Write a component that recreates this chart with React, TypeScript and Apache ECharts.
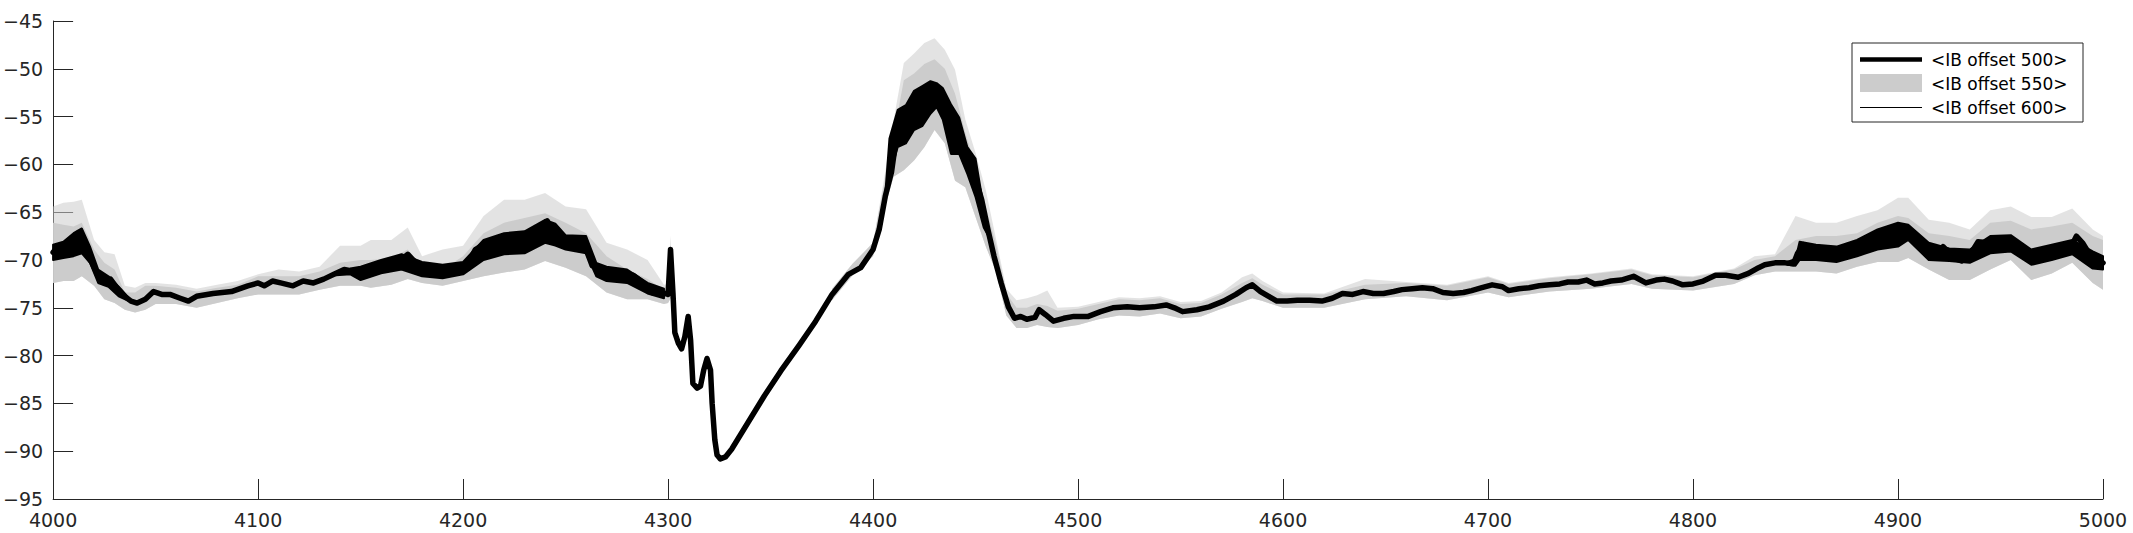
import React, { useEffect, useRef } from 'react';
import * as echarts from 'echarts';

// IB offset 500: centre of the thick black trace
const lineX = [
  4000, 4002, 4005, 4007, 4010, 4012, 4014, 4016, 4019, 4022, 4025, 4028, 4031, 4035, 4038, 4041, 4045, 4049, 4053, 4057,
  4062, 4066, 4070, 4078, 4087, 4095, 4100, 4103, 4107, 4111, 4117, 4122, 4127, 4132, 4137, 4142, 4147, 4153, 4158, 4163,
  4168, 4173, 4177, 4182, 4187, 4192, 4197, 4202, 4206, 4213, 4219, 4226, 4232, 4237, 4241, 4245, 4250, 4255, 4260, 4263,
  4268, 4273, 4278, 4283, 4288, 4292, 4297, 4299, 4300, 4301.2, 4302.4, 4303.3, 4305, 4306.6, 4308.2, 4309.8, 4311, 4312.1, 4314.2, 4315.8,
  4317.4, 4319, 4320.7, 4321.5, 4322.8, 4323.9, 4325.5, 4328, 4331, 4339, 4347, 4355, 4364, 4372, 4380, 4388, 4394, 4400, 4403, 4406,
  4409, 4412, 4416, 4420, 4424, 4428, 4431, 4434, 4438, 4442, 4446, 4450, 4453, 4456, 4459, 4462.5, 4466, 4469, 4472, 4475,
  4479, 4481, 4484, 4488, 4493, 4498, 4505, 4511, 4517, 4524, 4530, 4537, 4543, 4547, 4551, 4558, 4564, 4571, 4577, 4582,
  4585, 4589, 4593, 4597, 4602, 4607, 4613, 4619, 4624, 4629, 4634, 4639, 4644, 4649, 4654, 4658, 4663, 4668, 4673, 4678,
  4683, 4688, 4692, 4697, 4702, 4707, 4710, 4715, 4720, 4725, 4730, 4735, 4739, 4744, 4748, 4752, 4756, 4760, 4765, 4771,
  4777, 4782, 4786, 4790, 4795, 4800, 4805, 4811, 4816, 4822, 4827, 4832, 4835, 4840, 4845, 4849, 4851, 4854, 4858, 4864,
  4871, 4877, 4882, 4887, 4892, 4897, 4900, 4902, 4905, 4910, 4914, 4919, 4922, 4927, 4931, 4935, 4939, 4944, 4948, 4953,
  4957, 4961, 4965, 4969, 4974, 4979, 4984, 4987, 4990, 4994, 4997, 5000,
];
const lineY = [
  -69.2, -68.7, -69.2, -68.2, -68.5, -67.2, -67.8, -69.2, -70.3, -71.7, -72.4, -72.0, -72.9, -73.8, -74.3, -74.5, -74.1, -73.3, -73.6, -73.6,
  -74.0, -74.3, -73.8, -73.5, -73.3, -72.7, -72.4, -72.7, -72.2, -72.4, -72.7, -72.2, -72.4, -72.0, -71.5, -71.0, -71.2, -71.2, -70.8, -70.5,
  -70.3, -69.4, -70.3, -71.0, -71.5, -71.3, -71.0, -70.5, -68.9, -68.0, -67.8, -67.8, -67.5, -66.6, -65.9, -67.5, -68.0, -67.8, -68.9, -70.6,
  -71.0, -71.5, -71.7, -71.6, -72.4, -73.4, -73.6, -73.5, -73.6, -68.9, -73.5, -77.6, -78.7, -79.3, -78.0, -75.9, -78.4, -82.9, -83.4, -83.2,
  -81.5, -80.3, -81.5, -85.0, -88.8, -90.4, -90.8, -90.6, -89.8, -87.0, -84.2, -81.6, -78.9, -76.4, -73.6, -71.5, -70.8, -68.9, -66.8, -63.3,
  -60.8, -56.2, -55.8, -54.3, -53.8, -53.0, -52.5, -53.0, -56.3, -56.8, -59.6, -61.5, -63.7, -66.8, -69.6, -72.4, -74.9, -76.1, -75.9, -76.2,
  -76.0, -75.2, -75.7, -76.4, -76.1, -75.9, -75.9, -75.4, -75.0, -74.9, -75.0, -74.9, -74.7, -75.0, -75.4, -75.2, -74.9, -74.3, -73.6, -72.9,
  -72.6, -73.3, -73.8, -74.3, -74.3, -74.2, -74.2, -74.3, -74.0, -73.5, -73.6, -73.3, -73.5, -73.5, -73.3, -73.1, -73.0, -72.9, -73.0, -73.4,
  -73.5, -73.4, -73.2, -72.9, -72.6, -72.8, -73.2, -73.0, -72.9, -72.7, -72.6, -72.5, -72.3, -72.3, -72.1, -72.5, -72.4, -72.2, -72.1, -71.7,
  -72.4, -72.1, -72.0, -72.2, -72.6, -72.5, -72.2, -71.6, -71.6, -71.8, -71.4, -70.8, -70.5, -70.3, -70.3, -70.4, -69.3, -68.4, -69.1, -69.1,
  -69.3, -69.3, -68.6, -67.5, -67.4, -67.5, -67.2, -66.5, -67.0, -67.9, -68.9, -69.4, -68.6, -69.8, -70.1, -69.5, -68.1, -68.2, -68.4, -67.9,
  -68.4, -69.5, -69.5, -69.3, -68.9, -68.6, -68.8, -67.5, -68.2, -69.6, -69.8, -70.3,
];

// IB offset 500: spread of the black trace where it is noisy (null = gap)
const bandX = [
  4000, 4005, 4010, 4014, 4018, 4022, 4027, 4032, 4037, null,
  4138, 4145, 4150, 4160, 4170, 4180, 4190, 4200, 4210, 4220, 4230, 4240, 4245, 4250, 4260, 4265, 4270, 4280, 4290, 4298, null,
  4406, 4408, 4412, 4416, 4420, 4424, 4428, 4431, 4434, 4438, 4442, 4446, 4450, 4454, 4457, null,
  4846, 4850, 4852, 4860, 4870, 4880, 4890, 4900, 4905, 4915, 4925, 4935, 4945, 4955, 4965, 4975, 4985, 4995, 5000,
];
const bandHigh = [
  -68.4, -68.1, -67.2, -66.7, -68.6, -71.0, -71.7, -72.8, -74.0, null,
  -71.4, -70.9, -70.7, -70.0, -69.4, -70.2, -70.5, -70.2, -67.9, -67.2, -67.0, -65.8, -66.2, -67.4, -67.5, -70.3, -70.7, -71.0, -72.4, -73.0, null,
  -63.0, -57.3, -54.3, -53.8, -52.3, -51.8, -51.3, -51.5, -52.0, -53.7, -55.1, -58.2, -59.4, -64.5, -67.5, null,
  -70.2, -69.9, -68.1, -68.4, -68.6, -67.9, -66.8, -66.1, -66.3, -68.2, -68.8, -68.9, -67.5, -67.4, -68.9, -68.4, -67.9, -69.1, -69.6,
];
const bandLow = [
  -70.0, -69.8, -69.6, -69.3, -70.3, -72.4, -72.8, -73.8, -74.3, null,
  -71.6, -71.5, -72.1, -71.4, -71.0, -71.7, -71.9, -71.5, -70.0, -69.4, -69.3, -68.2, -68.5, -68.9, -69.3, -71.7, -72.2, -72.4, -73.5, -74.0, null,
  -63.6, -61.3, -58.2, -57.8, -56.4, -56.0, -54.7, -54.0, -55.3, -58.9, -58.9, -61.0, -63.4, -66.6, -67.8, null,
  -70.5, -70.6, -70.0, -70.0, -70.2, -69.6, -68.9, -68.6, -67.9, -70.0, -70.1, -70.3, -69.3, -69.1, -70.5, -70.0, -69.4, -70.9, -71.0,
];

// IB offset 550: grey envelope (low edge, solid top, spike tips)
const greyX = [
  4000, 4005, 4010, 4014, 4020, 4025, 4030, 4035, 4040, 4045, 4050, 4060, 4070, 4080, 4090, 4100, 4110, 4120, 4130, 4140,
  4150, 4155, 4165, 4173, 4180, 4190, 4200, 4210, 4220, 4230, 4240, 4250, 4260, 4270, 4280, 4290, 4298, 4300, 4301.2, 4302.4,
  null,
  4380, 4390, 4400, 4405, 4410, 4415, 4420, 4425, 4430, 4435, 4440, 4445, 4450, 4455, 4460, 4465, 4470, 4475, 4480, 4485,
  4490, 4500, 4510, 4520, 4530, 4540, 4550, 4560, 4570, 4580, 4585, 4590, 4600, 4620, 4640, 4660, 4680, 4700, 4710, 4730,
  4750, 4770, 4780, 4800, 4820, 4830, 4840, 4850, 4860, 4870, 4880, 4890, 4900, 4905, 4915, 4925, 4935, 4945, 4955, 4965,
  4975, 4985, 4995, 5000,
];
const greyLow = [
  -72.4, -72.2, -72.2, -71.7, -72.7, -74.1, -74.5, -75.2, -75.5, -75.2, -74.6, -74.6, -75.0, -74.5, -74.0, -73.6, -73.6, -73.6, -73.1, -72.7,
  -72.7, -72.9, -72.6, -72.0, -72.4, -72.7, -72.2, -71.7, -71.3, -71.0, -70.1, -70.8, -71.7, -73.4, -74.1, -74.1, -74.6, -74.5, -74.0, -74.0,
  null,
  -74.2, -71.6, -69.6, -65.0, -61.3, -60.6, -59.6, -58.2, -56.4, -57.8, -61.7, -62.4, -65.5, -68.6, -71.2, -75.8, -77.1, -77.1, -76.8, -77.0,
  -77.1, -76.8, -76.2, -75.8, -75.9, -75.6, -76.1, -75.9, -75.1, -74.4, -74.0, -74.3, -75.0, -75.0, -74.1, -73.8, -74.2, -73.4, -73.9, -73.3,
  -73.0, -72.5, -73.0, -73.2, -72.5, -71.6, -71.2, -71.2, -71.2, -71.4, -70.7, -70.2, -70.2, -69.8, -71.0, -72.1, -72.1, -71.0, -70.0, -72.1,
  -71.4, -70.3, -72.4, -73.1,
];
const greyHigh = [
  -66.1, -66.3, -66.5, -66.1, -68.9, -70.3, -71.0, -73.4, -73.4, -72.7, -72.7, -72.9, -73.3, -72.9, -72.6, -71.7, -71.7, -71.7, -71.2, -70.3,
  -70.0, -70.0, -69.8, -68.9, -70.7, -71.0, -69.6, -67.2, -66.1, -65.6, -65.1, -66.1, -67.2, -69.6, -71.0, -72.0, -73.1, -73.0, -68.5, -73.0,
  null,
  -73.0, -70.4, -68.2, -62.5, -57.0, -51.2, -50.5, -49.5, -49.0, -50.0, -52.6, -56.7, -60.2, -64.4, -68.4, -73.5, -75.0, -75.0, -74.6, -74.8,
  -75.3, -75.1, -74.6, -74.1, -74.2, -74.0, -74.6, -74.5, -73.6, -72.4, -71.9, -72.6, -73.6, -73.6, -72.6, -72.4, -72.7, -71.8, -72.5, -71.9,
  -71.5, -71.0, -71.6, -71.8, -71.0, -70.0, -69.6, -67.9, -67.5, -67.5, -67.2, -66.1, -65.4, -65.6, -67.2, -67.5, -67.9, -66.1, -65.9, -66.8,
  -66.5, -66.1, -67.5, -67.9,
];
const greySpike = [
  -64.4, -64.0, -63.9, -63.7, -67.9, -69.2, -69.4, -72.7, -72.9, -72.4, -72.4, -72.6, -73.0, -72.6, -72.2, -71.5, -71.0, -71.2, -70.7, -68.5,
  -68.5, -67.9, -67.9, -66.6, -69.6, -68.9, -68.5, -65.4, -63.7, -63.7, -63.0, -64.4, -64.7, -68.2, -68.9, -70.0, -72.6, -72.5, -67.5, -72.8,
  null,
  -73.0, -70.4, -68.2, -62.0, -55.4, -49.4, -48.4, -47.3, -46.8, -48.0, -50.1, -55.3, -58.8, -62.7, -67.8, -73.0, -74.2, -74.0, -73.7, -73.2,
  -75.0, -74.9, -74.4, -73.9, -74.0, -73.8, -74.4, -74.3, -73.4, -71.8, -71.4, -72.2, -73.4, -73.5, -72.0, -72.3, -72.6, -71.7, -72.4, -71.8,
  -71.4, -70.9, -71.5, -71.7, -70.9, -69.6, -69.4, -65.4, -66.1, -66.1, -65.4, -64.8, -63.5, -63.5, -65.8, -66.1, -66.8, -64.8, -64.4, -65.5,
  -65.5, -64.6, -66.8, -67.5,
];

const seriesNames = ['<IB offset 500>', '<IB offset 550>', '<IB offset 600>'];

const FONT = 'DejaVu Sans';
const AXIS = '#262626';
const GREY = '#cccccc';

// filled envelope between two edges, drawn through the cartesian scales
const bandSeries = (
  name: string,
  xs: (number | null)[],
  lo: (number | null)[],
  hi: (number | null)[],
  fill: string,
  stroke: string | null,
  z: number
) => ({
  type: 'custom',
  name,
  z,
  silent: true,
  coordinateSystem: 'cartesian2d',
  data: [[xs[0], lo[0]]],
  renderItem: (_params: any, api: any) => {
    const children: any[] = [];
    let top: number[][] = [];
    let bottom: number[][] = [];
    const flush = () => {
      if (top.length > 1) {
        children.push({
          type: 'polygon',
          shape: { points: top.concat(bottom.reverse()) },
          style: stroke ? { fill, stroke, lineWidth: 2, lineJoin: 'round' } : { fill },
        });
      }
      top = [];
      bottom = [];
    };
    for (let i = 0; i < xs.length; i++) {
      if (xs[i] == null) {
        flush();
        continue;
      }
      top.push(api.coord([xs[i], hi[i]]));
      bottom.push(api.coord([xs[i], lo[i]]));
    }
    flush();
    return { type: 'group', children };
  },
});

const legendTexts = (x: number, ys: number[]) =>
  seriesNames.map((t, i) => ({
    type: 'text',
    x,
    y: ys[i],
    style: { text: t, font: `17px "${FONT}"`, fill: '#000', verticalAlign: 'middle', textAlign: 'left' },
  }));

const App: React.FC = () => {
  const chartRef = useRef<HTMLDivElement>(null);

  useEffect(() => {
    if (!chartRef.current) return;
    const chart = echarts.init(chartRef.current, undefined, { renderer: 'svg' });

    const line = (xs: number[], ys: number[]) => xs.map((x, i) => [x, ys[i]]);

    const option: any = {
      animation: false,
      backgroundColor: '#ffffff',
      grid: { left: 45, right: 30, top: 21, bottom: 34, containLabel: false },
      xAxis: {
        type: 'value',
        min: 4000,
        max: 5000,
        interval: 100,
        axisLine: { show: true, lineStyle: { color: AXIS, width: 1 } },
        axisTick: { show: true, inside: true, length: 20, lineStyle: { color: AXIS } },
        axisLabel: {
          color: AXIS,
          fontSize: 19,
          fontFamily: FONT,
          margin: 11,
          formatter: (v: number) => String(v),
        },
        splitLine: { show: false },
      },
      yAxis: {
        type: 'value',
        min: -95,
        max: -45,
        interval: 5,
        axisLine: { show: true, lineStyle: { color: AXIS, width: 1 } },
        axisTick: { show: true, inside: true, length: 20, lineStyle: { color: AXIS } },
        axisLabel: {
          color: AXIS,
          fontSize: 19,
          fontFamily: FONT,
          margin: 10,
          formatter: (v: number) => String(v).replace('-', '\u2212'),
        },
        splitLine: { show: false },
      },
      series: [
        bandSeries(seriesNames[1], greyX, greyLow, greySpike, 'rgba(204,204,204,0.55)', null, 1),
        bandSeries(seriesNames[1], greyX, greyLow, greyHigh, GREY, null, 2),
        {
          type: 'line',
          name: seriesNames[2],
          data: line(lineX, lineY),
          showSymbol: false,
          symbol: 'none',
          lineStyle: { color: '#000', width: 1 },
          z: 3,
        },
        bandSeries(seriesNames[0], bandX, bandLow, bandHigh, '#000', '#000', 4),
        {
          type: 'line',
          name: seriesNames[0],
          data: line(lineX, lineY),
          showSymbol: false,
          symbol: 'none',
          lineStyle: { color: '#000', width: 5.5, join: 'round', cap: 'round' },
          z: 5,
        },
      ],
      graphic: [
        {
          type: 'group',
          z: 100,
          children: [
            {
              type: 'rect',
              shape: { x: 1852, y: 43, width: 231, height: 79 },
              style: { fill: '#fff', stroke: AXIS, lineWidth: 1 },
            },
            {
              type: 'line',
              shape: { x1: 1860, y1: 59.5, x2: 1922, y2: 59.5 },
              style: { stroke: '#000', lineWidth: 4.5 },
            },
            {
              type: 'rect',
              shape: { x: 1860, y: 74, width: 62, height: 18 },
              style: { fill: GREY },
            },
            {
              type: 'line',
              shape: { x1: 1860, y1: 107.5, x2: 1922, y2: 107.5 },
              style: { stroke: '#000', lineWidth: 1 },
            },
            ...legendTexts(1931, [60, 84, 108]),
          ],
        },
      ],
    };

    chart.setOption(option);
    return () => chart.dispose();
  }, []);

  return (
    <div
      ref={chartRef}
      style={{ position: 'absolute', left: 0, top: 0, width: 2133, height: 533, background: '#fff' }}
    />
  );
};

export default App;
